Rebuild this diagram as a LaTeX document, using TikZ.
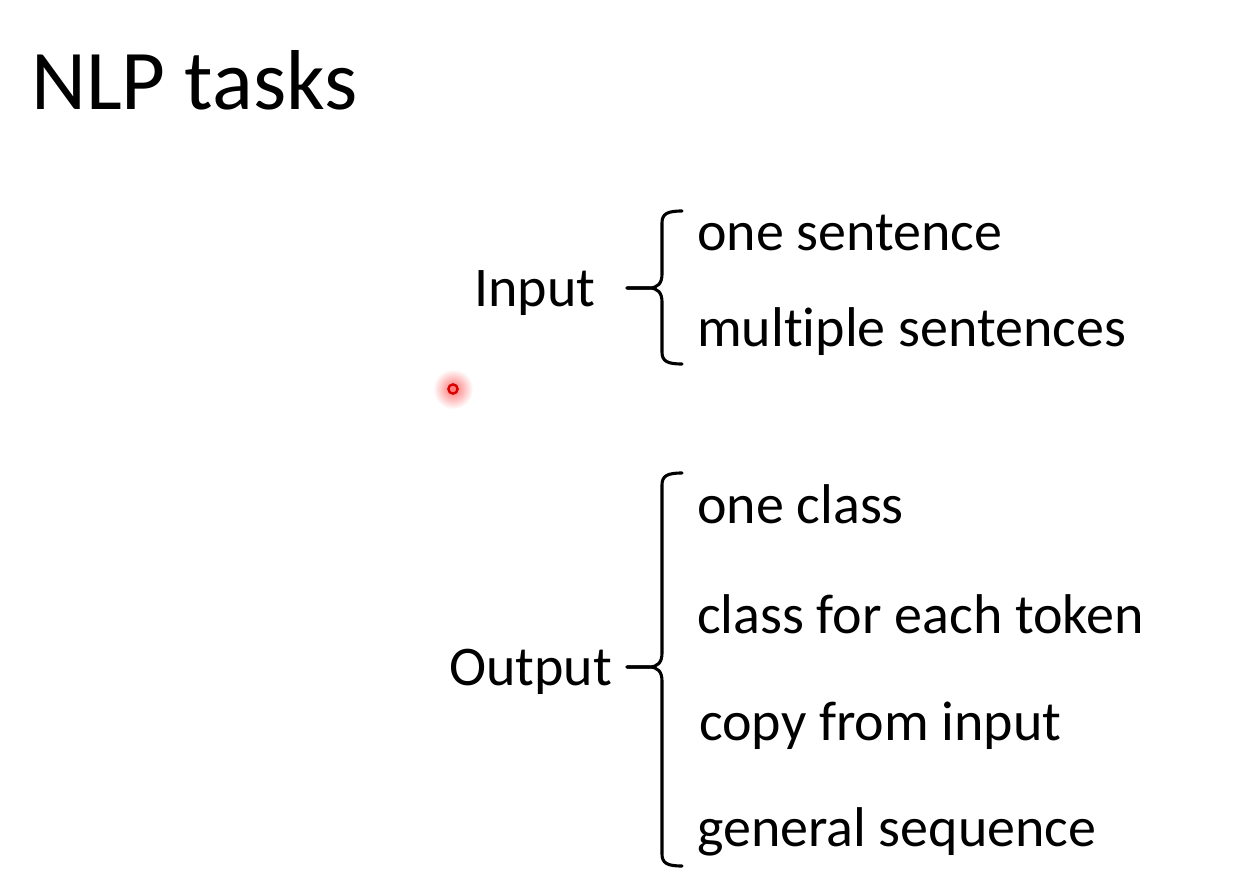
\documentclass[tikz,border=0pt]{standalone}
\usepackage{fontspec}
\setmainfont[Ligatures=NoCommon]{Carlito}
\begin{document}
\begin{tikzpicture}[x=1pt,y=-1pt,
  title/.style={anchor=base west,inner sep=0pt,font=\fontsize{85}{90}\selectfont},
  item/.style={anchor=base west,inner sep=0pt,font=\fontsize{56}{60}\selectfont},
  brace/.style={line width=3.1pt,line cap=round,line join=round}]
\useasboundingbox[fill=white] (0,0) rectangle (1244,896);

% title
\node[title] (ttl) at (31,110) {NLP tasks};

% input group
\node[item] (in) at (474,306) {Input};
\node[item] (in1) at (697,250) {one sentence};
\node[item] (in2) at (697,346) {multiple sentences};

% output group
\node[item] (out) at (449,685) {Output};
\node[item] (out1) at (697,523) {one class};
\node[item] (out2) at (697,633) {class for each token};
\node[item] (out3) at (699,740) {copy from input};
\node[item] (out4) at (697,846) {general sequence};

% curly braces
\coordinate (bi) at (627,288);
\draw[brace] (bi) -- (649,288) .. controls (658,288) and (662,283) .. (662,274)
  -- (662,223) .. controls (662,214) and (667,211) .. (682,211);
\draw[brace] (bi) -- (649,288) .. controls (658,288) and (662,293) .. (662,302)
  -- (662,352) .. controls (662,361) and (667,364) .. (682,364);

\coordinate (bo) at (627,667);
\draw[brace] (bo) -- (649,667) .. controls (658,667) and (662,662) .. (662,653)
  -- (662,485) .. controls (662,476) and (667,473) .. (682,473);
\draw[brace] (bo) -- (649,667) .. controls (658,667) and (662,672) .. (662,681)
  -- (662,854) .. controls (662,863) and (667,866) .. (682,866);

% pointer dot
\coordinate (dot) at (453,389);
\shade[inner color=red!55,outer color=white] (dot) circle (20);
\draw[red!85!black,line width=2.4pt] (dot) circle (4.6);
\end{tikzpicture}
\end{document}
